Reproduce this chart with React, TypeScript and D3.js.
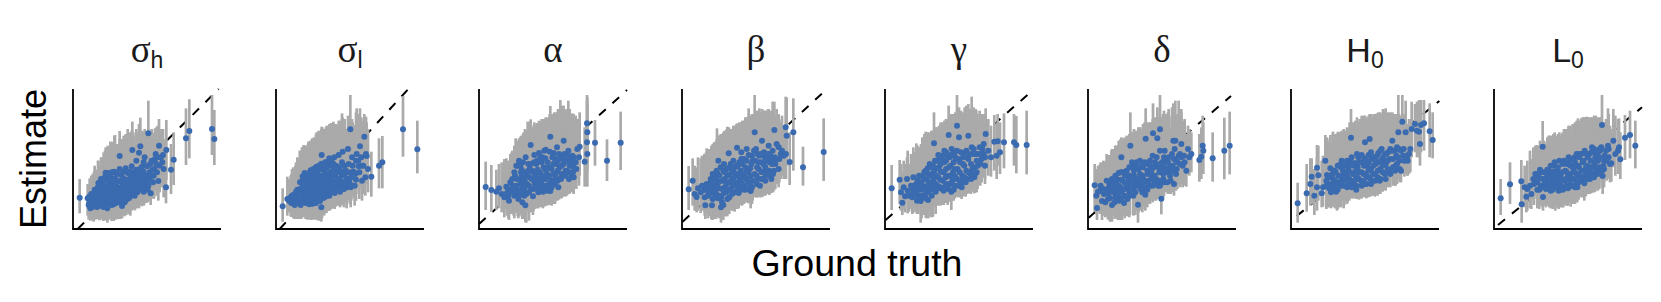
import React from 'react';
import * as d3 from 'd3';

// rows are [truth, estimate, lower, upper] (plot units)
const sigmaH = [
  [20,94,47,150],[44,92,40,135],[47,72,28,118],[52,62,25,108],[54,84,32,145],[55,105,50,160],
  [62,72,22,120],[63,95,40,172],[65,118,60,190],[72,66,30,125],[73,86,30,150],[74,106,42,170],[75,126,62,205],
  [84,75,28,140],[85,95,36,160],[86,115,50,188],[87,135,70,215],[96,70,26,130],[97,88,30,150],[98,169,90,245],[98,108,45,178],[99,128,58,200],
  [103,62,19,125],[108,78,28,150],[109,98,42,170],[110,118,50,195],[111,138,66,232],[112,158,90,262],
  [122,74,24,140],[123,92,36,165],[124,112,45,195],[125,132,60,225],[126,152,80,282],
  [134,84,30,155],[135,104,42,180],[136,124,55,212],[137,144,70,250],[140,219,140,294],
  [147,69,32,150],[148,92,40,175],[149,112,50,205],[150,132,62,235],[151,152,70,270],
  [160,88,42,165],[161,108,52,195],[162,128,60,228],[163,148,75,260],[164,168,85,300],
  [172,98,40,180],[173,118,58,205],[174,138,66,240],[175,158,80,272],[178,237,155,322],
  [185,100,60,190],[186,120,56,215],[187,140,70,250],[188,160,86,280],[190,205,120,300],
  [198,229,145,315],[198,118,62,210],[199,138,74,240],[200,158,88,270],[202,248,163,334],[201,180,100,290],
  [212,112,70,200],[213,132,72,235],[214,152,90,262],[215,215,125,300],
  [226,287,190,385],[226,130,85,230],[228,150,90,265],[230,170,100,272],[232,195,110,290],[233,107,72,210],
  [240,140,92,245],[242,160,90,262],[244,180,95,285],[246,210,122,302],[248,225,140,295],[252,170,100,262],
  [256,144,85,240],[258,250,160,330],[260,190,110,280],[264,215,130,300],[268,200,125,290],[272,180,95,270],
  [279,125,77,237],[280,237,147,327],[294,178,105,255],[302,208,132,290],[339,272,192,362],[349,294,212,389],[417,300,222,402],[424,270,192,357],
];
const sigmaHCore = [
  [49,78,30,128],[50,98,38,152],[58,66,26,118],[58,84,28,140],[59,106,45,165],[68,74,28,128],[68,94,32,155],[69,112,48,178],
  [79,70,30,130],[79,84,26,145],[80,104,42,168],[80,122,55,190],[91,66,24,135],[91,84,30,148],[92,104,40,172],[92,124,56,198],[92,142,72,230],
  [103,84,26,155],[104,102,40,175],[104,122,52,200],[105,146,70,235],[116,72,24,145],[116,88,30,165],[117,108,42,190],[117,128,56,220],[118,148,76,255],
  [129,78,28,150],[129,96,36,170],[130,116,48,205],[130,138,62,240],[142,80,30,160],[142,100,42,185],[143,120,52,220],[143,142,66,255],[144,162,85,270],
  [155,80,38,162],[155,98,46,190],[156,118,56,225],[156,140,70,258],[168,92,44,178],[168,110,52,205],[169,130,62,238],[169,150,76,270],[180,108,58,200],[180,128,62,232],[181,150,78,270],[181,170,90,290],
  [193,110,62,205],[193,130,68,240],[194,150,84,278],[206,124,68,225],[206,144,80,258],[207,165,92,285],[220,124,78,225],[220,142,84,255],[221,160,92,275],[236,205,115,300],[238,178,100,290],[254,215,130,310],[250,195,115,305],[270,222,140,300],
];
const sigmaHInner = [
  [76,138,70,205],[84,150,80,215],[96,156,90,235],[104,168,95,250],[116,170,100,262],[124,172,95,280],[132,165,90,255],[140,180,105,270],[128,108,48,190],[152,172,95,280],[158,182,100,285],[170,172,90,290],[176,188,110,295],[190,178,98,290],[196,172,95,285],[206,186,110,295],[212,172,95,280],[120,100,40,180],[140,112,50,205],[154,108,50,200],[166,120,58,220],[176,108,55,205],[190,150,80,270],[204,134,74,245],[216,142,85,258],[224,118,80,225],[230,148,90,262],[236,160,95,270],[212,200,118,292],[222,188,105,290],[66,88,30,150],[84,105,40,170],[110,86,30,165],[136,92,36,175],[158,100,48,190],
];
const sigmaL = [
  [20,68,22,122],[34,90,40,157],[40,84,50,150],[46,78,36,165],[48,100,50,180],
  [56,72,30,160],[58,92,34,190],[60,112,55,200],[68,82,30,175],[70,100,32,210],[72,120,50,235],[74,72,32,165],
  [82,90,35,190],[83,108,40,252],[84,128,55,225],[85,150,75,245],[86,168,90,250],
  [94,84,28,190],[95,102,34,205],[96,122,50,235],[97,142,62,262],
  [106,96,27,200],[107,114,40,225],[108,134,50,272],[109,154,65,260],[110,76,30,175],
  [118,90,30,190],[119,108,35,215],[120,128,50,240],[121,148,60,265],[122,168,80,290],
  [130,100,25,215],[131,120,42,240],[132,140,55,280],[133,160,70,285],[137,222,140,307],[136,65,22,150],
  [144,108,45,230],[145,128,45,250],[146,148,60,285],[147,170,80,295],[148,200,120,300],
  [156,104,55,215],[157,124,55,250],[158,144,65,270],[159,164,80,300],[160,212,125,315],
  [170,120,62,240],[171,140,65,270],[172,160,78,322],[173,180,95,310],[175,215,130,315],
  [184,130,70,255],[185,150,75,280],[186,172,85,310],[188,222,135,325],
  [196,122,70,250],[197,142,75,275],[198,162,85,347],[200,232,150,335],[204,120,65,240],
  [210,175,95,300],[212,125,62,240],[214,150,80,280],[216,240,150,340],[218,195,110,310],
  [223,299,205,402],[224,125,65,265],[226,155,85,290],[228,215,125,330],[230,190,100,320],
  [236,130,70,255],[238,165,85,300],[240,205,120,350],[242,225,130,362],
  [250,170,90,310],[252,248,155,362],[256,215,125,335],[258,145,85,280],[262,190,105,320],
  [265,277,190,345],[268,155,100,245],[270,225,140,337],[272,219,135,320],[276,180,110,300],
  [286,157,97,232],[309,190,122,272],[319,200,122,279],[381,299,217,399],[424,239,167,325],
];
const sigmaLCore = [
  [44,95,38,160],[52,82,32,165],[52,102,42,185],[63,78,30,172],[64,98,34,195],[64,118,50,215],[76,84,30,180],[77,104,36,205],[78,124,48,230],[78,144,70,245],
  [89,78,30,185],[90,96,30,200],[90,116,42,230],[90,136,60,250],[90,156,85,248],[101,90,28,200],[102,110,36,220],[102,130,52,250],[102,150,70,265],[102,170,90,255],
  [113,82,28,185],[113,102,32,210],[114,122,44,238],[114,142,58,270],[114,162,78,275],[125,94,26,205],[126,112,38,228],[126,134,50,262],[126,154,66,285],[126,176,95,290],
  [138,92,32,205],[138,112,42,230],[139,134,52,265],[139,154,68,290],[139,178,95,305],[151,98,48,215],[151,118,48,245],[152,138,60,275],[152,158,76,298],[152,184,105,310],
  [164,112,58,230],[165,132,62,262],[165,152,70,290],[165,172,90,315],[165,195,115,318],[178,122,66,245],[178,142,70,275],[179,164,82,312],[191,130,72,258],[191,150,80,290],[192,172,90,325],[205,140,78,272],[206,160,88,305],[206,190,105,330],[220,148,88,285],[233,172,92,312],[247,205,125,345],[258,190,108,325],
];
const sigmaLInner = [
  [72,140,70,235],[80,158,85,245],[96,160,85,255],[104,176,100,260],[112,180,100,270],[120,186,105,285],[128,190,110,295],[136,196,115,300],[144,188,100,300],[150,200,115,305],[158,190,100,305],[166,205,120,315],[172,196,110,318],[180,190,100,315],[190,185,100,320],[198,200,115,330],[206,175,95,320],[214,170,92,300],[156,135,60,260],[170,132,62,262],[184,140,70,270],[196,132,75,262],[212,140,78,275],[222,135,75,270],[144,94,40,205],[120,78,28,180],[100,74,30,170],[132,84,26,190],[160,100,55,215],[176,108,60,220],[192,112,65,230],[226,170,95,305],[240,148,85,285],[248,188,105,330],[60,94,34,180],
];
const alpha = [
  [20,126,57,202],[37,117,52,192],[52,112,58,178],[60,122,62,195],[68,105,50,200],[76,95,35,210],
  [82,127,60,212],[84,108,40,205],[90,85,27,195],[94,140,70,225],[98,118,45,230],
  [106,100,32,215],[108,160,85,245],[110,130,55,272],[112,190,115,260],[118,90,32,205],
  [122,115,45,240],[124,145,60,260],[126,170,90,280],[130,80,30,190],[132,125,50,255],[134,155,70,290],
  [139,71,20,150],[142,105,19,235],[144,135,55,270],[146,165,80,322],[148,195,110,285],[155,252,170,329],
  [156,120,50,255],[158,150,65,290],[160,175,85,305],[162,98,42,220],[168,135,60,280],[170,160,75,300],[172,195,100,310],
  [178,110,62,240],[180,145,70,290],[182,170,85,315],[184,215,125,320],[190,125,65,265],[192,155,80,295],[194,185,95,330],[196,235,150,320],
  [202,130,72,270],[204,165,85,310],[206,200,105,335],[214,277,180,369],[214,114,72,215],[216,145,80,300],[218,180,90,330],[220,215,125,345],
  [228,135,75,285],[230,165,85,320],[232,195,105,350],[234,245,160,345],[227,137,85,260],[240,150,88,300],[242,185,100,340],[244,215,120,387],
  [252,160,97,320],[254,195,105,355],[256,225,130,360],[254,265,175,370],[264,175,100,330],[266,205,115,345],[268,235,135,385],
  [276,165,117,310],[278,190,110,335],[280,220,125,347],[284,155,105,300],[290,200,120,340],[295,240,150,330],[302,247,160,350],
  [317,202,127,305],[325,225,127,370],[324,260,170,385],[324,317,200,402],[325,290,180,395],[348,259,190,327],[384,205,144,269],[425,259,177,352],
];
const alphaCore = [
  [88,118,50,205],[88,100,32,190],[100,130,58,225],[100,150,80,235],[104,112,40,220],[114,130,50,245],[114,150,70,262],[116,108,38,215],[128,135,55,250],[128,110,38,235],[128,160,82,275],[128,178,100,268],
  [136,120,40,245],[137,145,62,275],[138,170,88,300],[150,110,25,240],[150,130,50,270],[151,155,72,300],[152,180,100,322],[164,120,55,260],[165,145,70,290],[165,168,82,308],[165,200,115,312],
  [175,125,62,268],[176,150,72,295],[176,178,88,318],[186,118,66,255],[187,140,72,285],[187,162,84,315],[188,200,110,330],[198,128,68,270],[199,150,78,300],[199,178,95,330],[199,212,135,325],
  [210,135,72,280],[210,158,84,310],[211,185,95,335],[222,140,75,290],[223,165,86,320],[223,195,108,345],[224,228,145,340],[236,145,85,295],[236,175,92,335],[237,205,115,360],[248,165,92,320],[248,190,105,350],[249,220,128,370],[260,175,98,330],[260,205,110,355],[272,190,108,345],[272,215,128,360],[284,185,112,335],[284,215,130,345],[270,170,105,325],[300,215,130,330],[238,125,90,260],[218,125,70,250],
];
const alphaInner = [
  [106,170,90,250],[114,190,110,265],[120,205,125,272],[124,190,110,275],[132,200,120,285],[140,215,130,295],[148,175,92,295],[156,195,110,310],[166,222,135,320],[174,205,115,318],[180,228,140,325],[190,215,125,330],[200,238,150,335],[212,232,145,345],[206,182,95,330],[226,212,120,350],[240,225,135,360],[252,210,115,355],[264,222,130,360],[276,205,120,345],[286,200,125,335],[180,130,65,275],[192,112,62,250],[204,115,70,240],[136,100,30,225],[120,100,38,215],[108,118,48,225],[96,112,45,215],[216,128,78,260],[228,150,80,300],[246,150,92,295],[258,160,98,315],[270,150,105,300],[282,170,112,320],[292,180,120,325],
];
const beta = [
  [20,119,57,189],[32,145,70,212],[38,105,55,190],[44,96,50,185],[48,122,55,215],[56,110,48,212],
  [67,117,52,225],[68,95,40,205],[70,71,30,160],[74,135,65,242],[78,100,32,200],[82,118,40,235],[86,150,80,240],
  [90,71,27,150],[92,90,27,190],[94,125,45,240],[96,155,80,260],[102,105,30,215],[105,135,50,302],[107,165,85,270],[109,205,130,280],
  [117,65,19,150],[118,95,32,205],[120,120,45,245],[122,145,60,270],[124,175,95,290],
  [132,110,38,225],[134,135,55,260],[136,160,70,307],[140,227,150,295],[142,95,45,210],
  [146,120,60,250],[148,145,65,285],[150,170,85,300],[165,244,165,317],
  [158,110,52,225],[160,135,60,265],[162,160,75,300],[164,190,105,315],
  [172,125,70,250],[174,150,75,290],[176,175,85,310],[178,210,125,320],
  [186,130,75,260],[188,155,80,300],[190,185,95,335],[194,240,160,330],
  [198,120,85,240],[199,140,77,275],[200,170,95,362],[206,114,62,215],[208,195,105,340],[212,145,85,290],
  [218,290,190,402],[218,165,95,320],[220,205,115,345],[222,240,160,350],[228,150,95,300],[230,180,100,335],[232,220,125,362],
  [240,265,170,360],[242,170,97,325],[244,195,105,345],[246,230,135,355],[250,145,100,270],[254,205,110,350],
  [260,250,165,360],[262,175,102,320],[264,225,125,350],[270,195,110,345],[272,235,135,382],[276,175,115,310],
  [277,297,200,382],[278,215,130,340],[284,255,170,360],[290,245,155,345],[296,225,150,320],[305,220,150,310],
  [311,305,210,397],[312,225,150,300],[314,280,190,395],[323,201,132,290],[334,290,175,392],[363,185,130,247],[425,231,144,332],
];
const betaCore = [
  [72,120,50,230],[78,118,40,225],[82,135,55,240],[88,108,30,210],[88,125,42,238],[88,142,72,250],[100,115,30,225],[100,132,50,250],[100,150,72,262],[112,100,32,212],[112,122,42,240],[112,142,60,270],[112,160,85,280],
  [126,108,38,220],[128,125,48,250],[128,150,65,280],[128,170,90,295],[140,118,48,245],[141,140,58,275],[141,162,78,300],[141,184,105,305],[153,130,55,260],[154,152,72,290],[154,175,90,305],[154,205,125,310],[166,118,60,240],[167,140,65,275],[167,165,80,305],[167,188,100,315],
  [180,118,70,245],[180,138,72,280],[181,162,84,305],[181,195,110,325],[193,150,80,295],[193,172,90,325],[194,205,120,335],[204,135,82,270],[205,158,88,305],[205,182,98,335],[210,220,135,345],[224,135,95,280],[224,160,95,315],[225,185,105,340],[226,225,130,355],
  [238,150,95,300],[238,172,102,325],[239,200,115,350],[250,165,102,320],[250,185,108,345],[252,215,125,355],[262,160,105,310],[262,200,112,345],[273,165,110,315],[274,205,125,345],[286,210,135,335],[290,180,125,300],[300,235,160,340],
];
const betaInner = [
  [92,165,95,255],[104,175,105,270],[116,185,110,285],[126,195,115,290],[134,180,100,300],[146,195,115,300],[158,185,100,310],[172,200,115,320],[178,230,150,320],[186,210,125,325],[200,222,140,340],[212,205,115,335],[216,235,150,345],[230,200,115,340],[236,225,140,350],[248,215,125,355],[258,225,135,360],[268,215,125,355],[280,195,120,340],[292,210,140,330],[150,105,55,220],[170,108,62,225],[190,118,80,240],[100,95,30,200],[120,80,30,180],[136,90,38,195],[80,108,38,210],[210,125,75,245],[234,130,95,265],[246,150,100,290],[256,170,105,320],[268,150,108,295],[60,130,55,220],[124,72,27,170],[108,92,35,195],
];
const gamma = [
  [20,122,57,192],[44,148,75,207],[48,110,55,195],[52,79,42,170],[56,125,60,205],[60,98,50,195],
  [66,150,85,215],[68,115,47,235],[72,100,52,195],[78,130,60,225],[82,95,45,190],[85,155,90,245],
  [92,110,52,205],[94,135,60,257],[96,85,50,185],[102,160,90,245],[104,120,60,230],[107,84,19,175],[108,140,65,255],
  [116,100,42,210],[118,125,50,245],[120,150,75,275],[122,175,100,292],[129,87,34,195],
  [130,115,32,225],[132,135,55,265],[134,160,75,285],[136,190,115,285],[147,257,170,350],
  [144,125,37,245],[146,150,70,280],[148,175,90,295],[150,205,125,300],
  [158,130,72,260],[160,155,75,290],[162,185,95,310],[164,215,135,305],[172,120,72,230],
  [174,145,75,275],[176,170,85,310],[178,200,110,322],[180,225,145,320],[191,282,190,370],
  [188,135,72,265],[190,160,85,300],[192,185,100,325],[194,215,130,335],[199,112,57,205],
  [202,145,85,280],[204,170,97,315],[206,200,115,335],[208,232,150,345],[216,310,215,402],
  [216,150,97,285],[218,180,100,325],[220,210,125,345],[222,275,190,365],[230,125,90,240],[232,160,97,305],[234,195,115,345],
  [242,140,97,265],[244,175,105,325],[246,215,130,362],[250,280,190,375],[256,165,107,320],[258,195,120,345],[260,245,160,397],
  [268,155,107,295],[270,185,110,335],[272,225,135,360],[278,190,120,330],[284,245,165,355],[290,210,140,320],[296,225,155,340],
  [302,285,195,362],[310,235,160,330],[318,215,157,310],[328,262,175,342],[335,220,150,315],[338,263,190,345],
  [345,230,165,320],[357,260,182,347],[387,260,190,345],[394,252,167,339],[425,252,164,355],
];
const gammaCore = [
  [84,118,48,210],[88,130,62,230],[96,105,45,205],[96,120,52,225],[98,145,75,250],[110,100,32,205],[110,118,45,230],[110,136,60,255],[112,158,85,275],[124,108,32,215],[124,128,50,245],[125,148,68,275],[125,168,95,290],
  [138,118,38,235],[139,140,60,270],[139,165,82,290],[139,185,105,295],[152,112,45,230],[152,135,65,265],[153,160,78,295],[153,182,98,305],[153,205,125,305],[166,125,70,255],[166,148,75,290],[167,172,88,315],[167,195,110,320],[167,220,140,315],
  [182,132,78,270],[182,155,82,300],[183,180,92,325],[183,205,120,330],[183,230,150,325],[196,135,84,270],[196,160,92,305],[197,190,105,335],[197,222,135,345],[210,130,92,260],[210,158,97,305],[210,180,102,330],[211,215,130,350],
  [224,145,95,290],[224,170,102,325],[225,200,118,350],[238,155,100,300],[238,190,110,345],[239,225,135,365],[250,170,107,320],[250,210,125,355],[262,180,112,335],[263,225,145,360],[275,170,110,320],[275,205,125,345],[286,195,130,330],[300,215,150,330],[296,255,170,345],
];
const gammaInner = [
  [104,140,70,245],[118,170,95,285],[128,182,110,290],[134,195,125,290],[144,190,115,295],[156,205,125,300],[160,222,140,305],[172,210,125,320],[178,235,150,325],[188,220,135,330],[200,240,150,345],[206,225,135,345],[216,235,150,355],[228,230,145,355],[234,215,130,350],[244,235,150,370],[256,225,140,360],[266,240,160,365],[274,225,140,355],[284,225,150,345],[292,240,160,345],[160,122,70,245],[176,115,72,235],[190,120,80,245],[206,118,85,245],[220,130,95,265],[232,140,100,275],[246,150,105,285],[258,150,105,285],[140,100,35,205],[122,92,35,195],[100,95,45,195],[84,105,48,195],[270,165,110,305],[300,190,135,320],
];
const delta = [
  [20,131,52,195],[25,100,45,180],[27,63,27,150],[30,112,52,190],[38,130,60,200],[42,84,27,180],
  [48,105,40,200],[52,80,35,180],[56,145,80,225],[60,120,55,222],[66,92,22,195],
  [72,72,22,165],[74,130,60,240],[78,110,40,225],[82,160,95,250],[90,100,27,212],[92,130,50,245],[94,85,40,185],
  [100,215,130,275],[102,115,27,235],[104,145,65,272],[108,78,45,190],[112,170,105,272],
  [120,125,45,250],[122,150,70,280],[127,250,165,350],[126,100,42,215],[130,185,110,285],
  [136,135,60,265],[138,160,80,300],[142,110,42,225],[146,200,125,290],[150,73,19,175],[152,140,50,270],
  [156,165,85,305],[158,120,55,240],[162,190,115,300],[166,150,70,280],[172,103,55,215],[173,271,180,362],
  [176,125,70,250],[178,175,90,310],[182,145,80,280],[186,205,125,315],[195,287,200,377],
  [192,160,90,300],[194,130,80,260],[198,185,100,325],[204,150,85,285],[206,215,130,320],[208,272,170,365],
  [216,299,205,402],[214,170,100,320],[216,130,100,250],[220,91,44,190],[222,200,115,335],[226,150,95,290],
  [230,235,150,345],[234,180,110,335],[238,140,110,260],[242,215,125,360],[246,160,105,305],[254,190,115,340],[256,265,175,377],
  [258,135,100,245],[260,240,155,350],[262,265,175,385],[266,180,120,320],[272,220,130,385],[276,195,125,320],[280,255,170,360],
  [288,220,140,320],[295,175,127,285],[304,215,160,300],[310,225,170,290],[334,207,142,285],[340,217,150,305],[344,250,165,340],[346,235,165,320],
  [374,212,142,290],[409,235,149,334],[425,250,164,352],
];
const deltaCore = [
  [36,115,45,195],[46,120,48,205],[54,110,38,205],[62,105,30,205],[64,130,55,222],[70,115,30,225],[70,145,75,235],[82,95,30,195],[84,120,35,232],[84,138,55,250],[96,110,27,222],[97,125,42,240],[98,148,70,262],[98,170,100,270],
  [110,100,32,210],[110,120,40,240],[111,138,58,265],[111,160,85,275],[124,112,35,235],[125,135,55,265],[125,160,80,285],[137,120,40,245],[138,148,70,280],[138,175,95,295],[150,130,50,260],[151,150,70,290],[151,180,100,305],[163,110,50,235],[164,135,70,270],[164,160,82,300],[165,185,110,315],
  [178,118,65,240],[178,142,75,280],[179,165,85,310],[179,195,120,320],[190,150,85,290],[190,175,95,320],[200,140,85,275],[200,160,92,310],[201,200,115,335],[212,145,95,285],[212,185,105,335],[226,165,100,320],[226,190,112,345],[228,215,130,355],[240,170,105,330],[240,200,120,350],[252,175,110,330],[252,225,140,365],[264,205,125,345],[276,225,140,355],[284,190,125,325],
];
const deltaInner = [
  [66,130,55,222],[72,150,75,240],[86,150,75,250],[92,168,95,265],[104,170,100,270],[116,175,100,280],[124,185,110,285],[132,200,125,290],[144,190,115,295],[156,205,125,305],[170,200,120,320],[186,190,110,320],[194,220,140,330],[206,195,115,335],[216,235,150,345],[220,180,105,330],[236,205,120,345],[244,185,110,340],[258,210,125,350],[268,200,120,345],[280,215,135,350],[290,200,130,330],[300,240,165,310],[144,130,55,250],[170,122,60,245],[186,130,75,260],[210,130,90,260],[228,140,100,270],[248,145,105,280],[264,165,115,310],[80,80,30,175],[100,92,30,200],[118,90,38,195],[136,100,42,210],[60,90,28,190],
];
const h0 = [
  [20,77,19,139],[47,107,52,195],[58,135,70,212],[62,157,75,212],[70,100,42,180],[78,184,115,252],[78,125,55,215],
  [82,161,85,250],[92,107,65,205],[96,125,67,220],[103,205,135,282],[106,130,60,252],[108,162,90,275],
  [112,155,70,260],[118,182,115,282],[120,110,62,240],[126,150,67,292],[128,175,100,285],
  [135,112,62,235],[138,135,55,250],[142,160,70,292],[146,192,125,282],[154,150,85,270],[156,175,95,292],[158,130,62,250],
  [168,125,75,245],[170,155,80,282],[172,180,100,300],[180,274,190,360],[178,205,135,310],
  [184,140,92,270],[186,165,92,300],[188,190,110,315],[196,130,92,250],[198,155,90,280],[200,185,100,310],[202,215,140,322],
  [210,145,92,260],[212,170,92,322],[214,200,115,330],[222,260,175,340],[224,135,100,255],[226,160,92,280],[228,190,110,320],
  [236,270,190,345],[238,150,97,275],[240,180,105,330],[242,210,130,335],[252,165,97,300],[254,195,112,340],[258,220,150,347],
  [266,145,105,280],[268,180,112,310],[270,205,130,345],[272,240,170,330],[282,165,117,300],[284,195,125,362],[286,225,150,340],
  [294,175,130,305],[296,210,140,330],[298,235,165,335],[304,265,185,350],[314,190,130,320],[316,220,150,340],[318,245,170,345],
  [322,290,200,402],[325,205,157,300],[330,175,140,310],[334,322,235,402],[336,220,165,320],[340,205,157,310],[344,290,200,385],
  [350,205,160,305],[358,240,170,330],[362,300,215,382],[372,315,230,375],[378,295,215,382],[384,292,215,387],[387,255,190,345],
  [390,312,230,387],[399,317,235,387],[416,293,215,377],[425,267,212,350],
];
const h0Core = [
  [106,145,70,260],[112,135,65,250],[116,160,85,270],[124,135,70,255],[125,165,90,285],[132,145,62,270],[134,172,100,285],[144,140,65,260],[148,160,75,290],[150,185,115,290],[160,145,72,265],[162,165,85,295],[163,192,120,295],
  [174,135,90,260],[175,150,85,280],[175,172,95,305],[176,195,120,320],[190,145,92,270],[192,172,100,305],[193,198,125,325],[204,150,88,275],[205,170,95,310],[206,200,125,330],[218,145,100,265],[218,165,95,300],[219,190,115,330],[220,212,135,340],
  [232,155,95,280],[232,175,100,320],[233,200,120,335],[233,222,150,340],[246,165,100,295],[247,190,112,335],[248,215,140,345],[260,155,100,285],[260,175,105,315],[261,200,122,345],[262,228,155,350],[275,170,112,300],[275,190,115,335],[276,215,140,360],[290,180,125,310],[290,205,135,340],[291,230,155,350],[306,185,130,320],[306,210,145,340],[306,235,165,345],[318,195,135,320],[320,215,150,340],[330,235,165,340],[348,215,160,315],[338,240,170,345],[354,225,165,330],
];
const h0Inner = [
  [130,175,105,285],[140,190,115,290],[152,205,130,295],[158,190,110,300],[168,205,125,305],[182,215,135,320],[186,195,115,320],[198,225,145,335],[212,222,140,340],[226,205,125,335],[240,230,150,345],[254,205,125,345],[268,235,155,350],[282,225,145,355],[298,240,165,350],[312,235,160,345],[324,240,170,345],[182,125,92,250],[196,118,90,240],[212,130,92,255],[226,135,95,260],[240,135,100,265],[252,145,100,275],[268,150,105,285],[284,150,115,280],[298,165,125,300],[312,175,130,310],[326,180,140,310],[150,130,65,250],[140,118,60,235],[126,125,68,245],[114,122,65,240],[196,155,90,280],[284,205,125,345],[344,220,165,320],
];
const l0 = [
  [20,92,42,150],[48,134,75,200],[82,143,72,207],[83,74,19,135],[92,125,65,190],[97,97,50,170],[100,120,55,205],
  [108,130,62,235],[112,105,60,210],[118,150,90,245],[124,165,100,250],[130,140,75,240],[136,118,60,225],
  [142,170,115,252],[146,247,165,324],[147,96,55,165],[150,150,80,250],[156,120,65,235],[160,135,70,250],[164,175,105,280],
  [170,115,62,225],[172,145,70,255],[174,160,85,270],[180,190,125,285],[184,125,55,240],[186,150,80,265],[190,175,100,280],
  [194,115,60,230],[198,135,65,250],[200,160,90,277],[206,195,125,290],[208,120,65,240],[212,145,75,265],[214,175,100,295],
  [220,130,70,250],[222,160,90,300],[224,200,130,307],[230,130,67,245],[234,150,85,275],[238,180,105,310],[242,215,145,315],
  [246,135,80,250],[248,165,85,310],[252,190,110,332],[256,215,140,315],[260,150,97,285],[262,175,100,320],[266,200,120,335],[271,137,85,260],
  [274,160,97,295],[276,185,105,325],[278,225,150,337],[282,150,107,280],[286,175,105,310],[290,205,125,335],[294,245,170,330],
  [298,165,110,290],[300,190,120,320],[304,215,135,335],[310,175,120,300],[312,205,140,320],[318,235,160,325],[324,312,210,402],
  [326,159,105,260],[328,190,125,310],[332,220,160,320],[338,205,145,305],[342,250,170,362],[348,195,140,310],
  [352,197,142,300],[358,265,185,360],[364,225,160,340],[372,235,165,330],[375,245,180,332],[379,209,150,290],[393,274,207,342],[408,282,212,355],[424,250,182,325],
];
const l0Core = [
  [134,155,80,250],[140,130,70,240],[150,170,100,265],[152,135,70,245],[158,155,85,260],[166,125,65,240],[166,165,90,280],[176,135,65,250],[178,152,80,265],[178,172,100,285],[188,140,65,255],[190,160,90,275],[192,185,115,285],
  [202,125,65,240],[202,148,75,265],[203,170,100,285],[216,130,70,245],[216,150,80,275],[217,172,100,300],[218,195,125,300],[228,145,80,270],[229,165,90,295],[229,190,115,310],[242,150,82,275],[242,170,95,310],[243,200,125,320],[243,125,75,250],
  [254,140,88,265],[255,160,92,295],[255,185,108,325],[256,225,145,325],[268,155,95,290],[268,175,100,320],[269,205,125,335],[280,165,105,300],[280,190,110,330],[281,215,135,335],[292,160,108,285],[292,185,110,320],[293,230,150,335],[304,175,112,310],[304,200,125,335],[305,225,150,340],[316,185,120,315],[316,215,140,335],[317,240,165,330],[330,180,125,305],[330,205,140,320],[344,215,150,320],[344,240,165,345],
];
const l0Inner = [
  [128,165,90,252],[138,178,110,265],[146,150,80,255],[160,178,105,275],[170,190,120,280],[182,200,125,290],[196,205,130,290],[210,205,130,300],[224,215,140,310],[236,210,130,315],[248,225,145,325],[262,225,140,332],[272,235,150,335],[286,225,140,335],[300,240,160,340],[312,230,150,335],[322,245,170,335],[336,235,160,330],[176,118,60,235],[190,125,65,240],[206,118,65,230],[222,122,70,240],[236,130,75,250],[250,125,80,245],[264,145,95,275],[276,150,100,280],[288,150,105,280],[300,155,110,285],[312,165,115,295],[324,175,125,305],[156,145,72,255],[146,125,65,235],[130,118,62,225],[120,135,72,235],[240,190,115,315],
];

const titles = [['σ', 'h'], ['σ', 'l'], ['α', ''], ['β', ''], ['γ', ''], ['δ', ''], ['H', '0'], ['L', '0']];
const panelRows = [
  [...sigmaH, ...sigmaHCore, ...sigmaHInner], [...sigmaL, ...sigmaLCore, ...sigmaLInner],
  [...alpha, ...alphaCore, ...alphaInner], [...beta, ...betaCore, ...betaInner],
  [...gamma, ...gammaCore, ...gammaInner], [...delta, ...deltaCore, ...deltaInner],
  [...h0, ...h0Core, ...h0Inner], [...l0, ...l0Core, ...l0Inner],
];
// start and end of the y = x line in each panel, [x0, y0, x1, y1]
const diagonals = [
  [14, 0, 437, 420], [11, 0, 397, 420], [0, 15, 444, 417], [2, 22, 435, 420],
  [2, 27, 444, 417], [2, 34, 429, 399], [17, 39, 445, 384], [12, 12, 444, 365],
];

const W = 1661;
const H = 302;
const panelW = 148;
const panelH = 140;
const top = 89;

const x = d3.scaleLinear().domain([0, 444]).range([0, panelW]);
const y = d3.scaleLinear().domain([0, 420]).range([panelH, 0]);
const px = d3.scaleBand().domain(d3.range(8).map(String)).range([73, 73 + 203 * 8]);

function Panel({ index }: { index: number }) {
  const rows = panelRows[index];
  const [x0, y0, x1, y1] = diagonals[index];
  const diag = d3.line()([[x(x0), y(y0)], [x(x1), y(y1)]]) as string;
  const [main, sub] = titles[index];
  const isGreek = index < 6;
  return (
    <g transform={`translate(${px(String(index))},${top})`}>
      <text
        x={panelW / 2}
        y={-27}
        textAnchor="middle"
        fontSize={isGreek ? 37 : 34}
        fontFamily={isGreek ? '"Liberation Serif", serif' : '"Liberation Sans", sans-serif'}
        fill="#1a1a1a"
      >
        {main}
        {sub && (
          <tspan dy={6} fontSize={23} fontFamily='"Liberation Sans", sans-serif'>
            {sub}
          </tspan>
        )}
      </text>
      <path d={diag} fill="none" stroke="#000" strokeWidth={2} strokeDasharray="9 9" />
      {rows.map((r, i) => (
        <line key={i} x1={x(r[0])} x2={x(r[0])} y1={y(r[2])} y2={y(r[3])} stroke="#aaaaaa" strokeWidth={2.7} />
      ))}
      {rows.map((r, i) => (
        <circle key={i} cx={x(r[0])} cy={y(r[1])} r={3} fill="#3a6bb0" />
      ))}
      <line x1={0} x2={0} y1={0} y2={panelH + 1} stroke="#000" strokeWidth={1.8} />
      <line x1={0} x2={panelW} y1={panelH} y2={panelH} stroke="#000" strokeWidth={1.8} />
    </g>
  );
}

export default function App() {
  return (
    <svg width={W} height={H} style={{ position: 'absolute', left: 0, top: 0, display: 'block' }}>
      <rect width={W} height={H} fill="#fff" />
      {titles.map((_, i) => (
        <Panel key={i} index={i} />
      ))}
      <text
        transform="translate(46,159) rotate(-90)"
        textAnchor="middle"
        fontSize={36}
        fontFamily='"Liberation Sans", sans-serif'
        fill="#000"
      >
        Estimate
      </text>
      <text x={857} y={276} textAnchor="middle" fontSize={37.6} fontFamily='"Liberation Sans", sans-serif' fill="#000">
        Ground truth
      </text>
    </svg>
  );
}
